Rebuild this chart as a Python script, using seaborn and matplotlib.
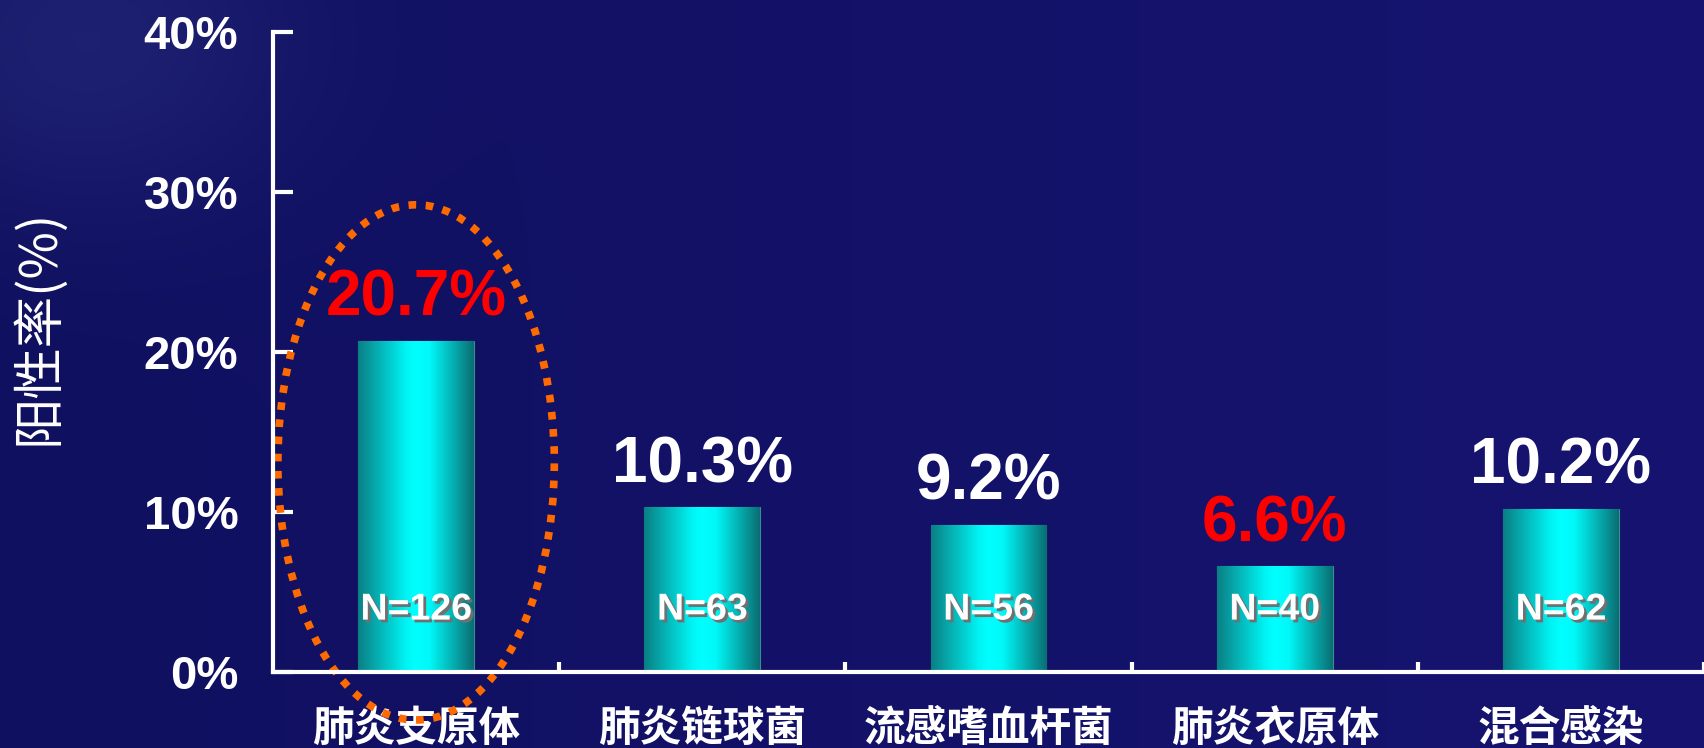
import numpy as np
import pandas as pd
import matplotlib
matplotlib.use("Agg")
import matplotlib.pyplot as plt
import seaborn as sns
from matplotlib.colors import LinearSegmentedColormap
from matplotlib.patches import Ellipse
import matplotlib.patheffects as pe

# ---- data ----
categories = ["肺炎支原体", "肺炎链球菌", "流感嗜血杆菌", "肺炎衣原体", "混合感染"]
positive_rate = [20.7, 10.3, 9.2, 6.6, 10.2]
value_labels = ["20.7%", "10.3%", "9.2%", "6.6%", "10.2%"]
sample_sizes = ["N=126", "N=63", "N=56", "N=40", "N=62"]
highlight = [True, False, False, True, False]
y_ticks = [0, 10, 20, 30, 40]
y_tick_labels = ["0%", "10%", "20%", "30%", "40%"]
y_label = "阳性率(%)"

sns.set_theme(style="white")
plt.rcParams["font.family"] = ["Liberation Sans", "Noto Sans CJK SC", "DejaVu Sans"]

BG = "#111162"
fig = plt.figure(figsize=(17.04, 7.48), dpi=100, facecolor=BG)

# background with soft lighter patch in top-left
ax_bg = fig.add_axes([0, 0, 1, 1], zorder=-10)
H, W = 187, 426
yy, xx = np.mgrid[0:H, 0:W]
xs, ys = xx * 4.0, yy * 4.0
base = np.array([16, 16, 96], dtype=float) / 255.0
right = np.array([22, 20, 112], dtype=float) / 255.0
t = (xs / 1704.0)[..., None]
img = base * (1 - t) + right * t
blob = np.exp(-(((xs - 80) / 220.0) ** 2 + ((ys - 40) / 170.0) ** 2))
img = img + blob[..., None] * np.array([0.05, 0.06, 0.06])
ax_bg.imshow(np.clip(img, 0, 1), aspect="auto", extent=[0, 1, 0, 1], interpolation="bilinear")
ax_bg.set_axis_off()

ax = fig.add_axes([273 / 1704, 1 - 672 / 748, 1 - 273 / 1704, 640 / 748])
ax.set_facecolor("none")

df = pd.DataFrame({"cat": categories, "rate": positive_rate})
sns.barplot(data=df, x="cat", y="rate", width=0.405, color="#00cccc",
            edgecolor="#3a8c95", linewidth=0.8, ax=ax, zorder=2)

ax.set_xlim(-0.5, 4.5)
ax.set_ylim(0, 40)

# cylindrical gradient fill
cmap = LinearSegmentedColormap.from_list(
    "cyl", [(0.0, "#0a7f84"), (0.42, "#00f5f5"), (0.5, "#00ffff"),
            (0.62, "#00f8f8"), (1.0, "#0a6e72")])
grad = np.linspace(0, 1, 256)[None, :]
for p in ax.patches:
    x0, y0 = p.get_x(), p.get_y()
    w, h = p.get_width(), p.get_height()
    im = ax.imshow(grad, cmap=cmap, aspect="auto", extent=[x0, x0 + w, y0, y0 + h],
                   zorder=2.5, interpolation="bilinear")
    im.set_clip_path(p)
ax.set_xlim(-0.5, 4.5)
ax.set_ylim(0, 40)

# value labels above bars
for i, (v, lab) in enumerate(zip(positive_rate, value_labels)):
    ax.annotate(lab, xy=(i, v), xytext=(0, 18), textcoords="offset points",
                ha="center", va="baseline", fontsize=46, fontweight="bold",
                color="#ff0000" if highlight[i] else "white", zorder=5,
                family=["Liberation Sans", "DejaVu Sans"])

# N labels inside bars
for i, n in enumerate(sample_sizes):
    ax.text(i, 3.9, n, ha="center", va="center", fontsize=27, fontweight="bold",
            color="white", zorder=6, family=["Liberation Sans", "DejaVu Sans"],
            path_effects=[pe.withSimplePatchShadow(offset=(2, -2), shadow_rgbFace="#707070", alpha=1.0)])

# dotted highlight ellipse
ell = Ellipse((0, 13.1), width=0.966, height=32.2, fill=False, edgecolor="#ff6a00",
              linewidth=5.5, linestyle=(0, (1, 1.25)), clip_on=False, zorder=7)
ax.add_patch(ell)

# axes styling
for s in ["top", "right"]:
    ax.spines[s].set_visible(False)
for s in ["left", "bottom"]:
    ax.spines[s].set_color("white")
    ax.spines[s].set_linewidth(3)
    ax.spines[s].set_zorder(8)

ax.set_yticks(y_ticks)
ax.set_yticklabels(y_tick_labels)
ax.tick_params(axis="y", direction="in", length=14.5, width=3, color="white",
               pad=25, labelsize=34, labelcolor="white", left=True)
for t_ in ax.get_yticklabels():
    t_.set_fontweight("bold")

ax.set_xticks(range(len(categories)))
ax.set_xticklabels(categories)
ax.set_xticks([i + 0.5 for i in range(len(categories))], minor=True)
ax.tick_params(axis="x", which="major", length=0, pad=26, labelsize=30, labelcolor="white")
ax.tick_params(axis="x", which="minor", direction="in", length=7.5, width=3,
               color="white", bottom=True)
for t_ in ax.get_xticklabels():
    t_.set_fontweight("bold")
    t_.set_family(["Noto Sans CJK SC", "DejaVu Sans"])

ax.set_xlabel("")
ax.set_ylabel(y_label, fontsize=37, color="white", family=["Noto Sans CJK SC", "DejaVu Sans"])
ax.yaxis.set_label_coords(-0.145, 0.54)

fig.savefig("out.png", dpi=100, facecolor=BG)
